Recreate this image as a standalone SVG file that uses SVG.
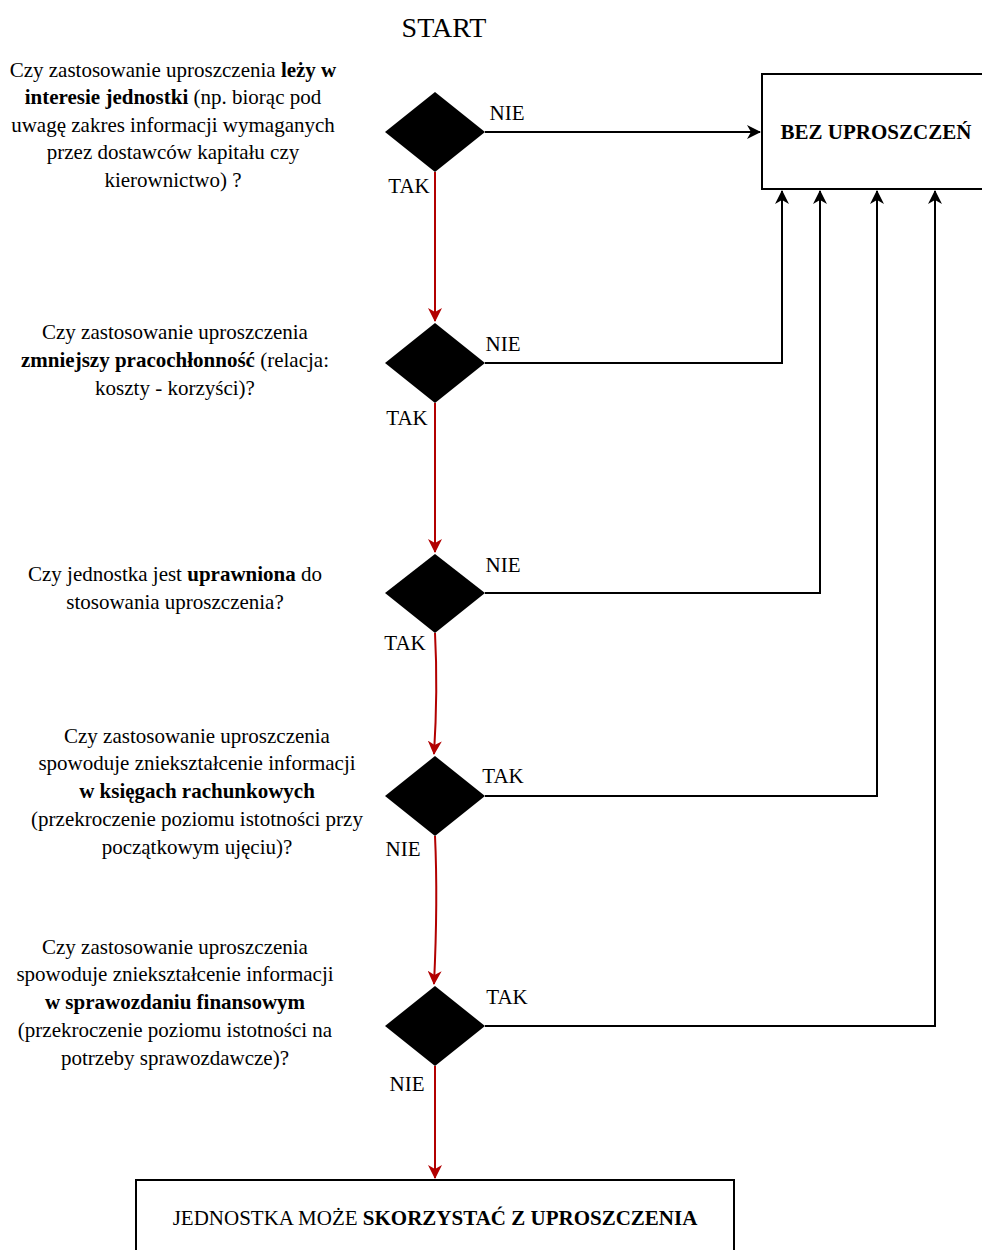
<svg xmlns="http://www.w3.org/2000/svg" width="982" height="1250" viewBox="0 0 982 1250">
<defs>
<marker id="ab" viewBox="0 0 14 14" refX="13" refY="7" markerWidth="14" markerHeight="14" markerUnits="userSpaceOnUse" orient="auto"><path d="M0,0 L14,7 L0,14 L4,7 Z" fill="#000"/></marker>
<marker id="ar" viewBox="0 0 14 14" refX="13" refY="7" markerWidth="14" markerHeight="14" markerUnits="userSpaceOnUse" orient="auto"><path d="M0,0 L14,7 L0,14 L4,7 Z" fill="#B20000"/></marker>
</defs>
<style>
text{font-family:"Liberation Serif","Times New Roman",serif;font-size:21px;fill:#000}
.c{text-anchor:middle}
.b{font-weight:bold}
.d{fill:#000;stroke:none}
.box{fill:#fff;stroke:#000;stroke-width:2}
.k{fill:none;stroke:#000;stroke-width:2}
.r{fill:none;stroke:#B20000;stroke-width:2}
</style>
<text id="start" class="c" x="444" y="37" style="font-size:28px">START</text>
<g id="connectors">
<path class="k" d="M485,132 L760,132" marker-end="url(#ab)"/>
<path class="k" d="M485,363 L782,363 L782,191" marker-end="url(#ab)"/>
<path class="k" d="M485,593 L820,593 L820,191" marker-end="url(#ab)"/>
<path class="k" d="M485,796 L877,796 L877,191" marker-end="url(#ab)"/>
<path class="k" d="M485,1026 L935,1026 L935,191" marker-end="url(#ab)"/>
<path class="r" d="M435,172 L435,321" marker-end="url(#ar)"/>
<path class="r" d="M435,403 L435,552" marker-end="url(#ar)"/>
<path class="r" d="M435,633 Q438,690 434,754" marker-end="url(#ar)"/>
<path class="r" d="M435,836 Q438,900 434,984" marker-end="url(#ar)"/>
<path class="r" d="M435,1066 L435,1178" marker-end="url(#ar)"/>
</g>
<g id="bez">
<rect class="box" x="762" y="74" width="224" height="115"/>
<text class="c b" x="876" y="139">BEZ UPROSZCZEŃ</text>
</g>
<g id="final">
<rect class="box" x="136" y="1180" width="598" height="80"/>
<text class="c" x="435" y="1225">JEDNOSTKA MOŻE <tspan class="b">SKORZYSTAĆ Z UPROSZCZENIA</tspan></text>
</g>
<g id="q1">
<path class="d" d="M435,92 L485,132 L435,172 L385,132 Z"/>
<text x="507" y="120" class="c">NIE</text>
<text x="409" y="193" class="c">TAK</text>
<text class="c" x="173" y="77">Czy zastosowanie uproszczenia <tspan class="b">leży w</tspan></text>
<text class="c" x="173" y="104"><tspan class="b">interesie jednostki</tspan> (np. biorąc pod</text>
<text class="c" x="173" y="132">uwagę zakres informacji wymaganych</text>
<text class="c" x="173" y="159">przez dostawców kapitału czy</text>
<text class="c" x="173" y="187">kierownictwo) ?</text>
</g>
<g id="q2">
<path class="d" d="M435,323 L485,363 L435,403 L385,363 Z"/>
<text x="503" y="351" class="c">NIE</text>
<text x="407" y="425" class="c">TAK</text>
<text class="c" x="175" y="339">Czy zastosowanie uproszczenia</text>
<text class="c" x="175" y="367"><tspan class="b">zmniejszy pracochłonność</tspan> (relacja:</text>
<text class="c" x="175" y="395">koszty - korzyści)?</text>
</g>
<g id="q3">
<path class="d" d="M435,554 L485,593 L435,633 L385,593 Z"/>
<text x="503" y="572" class="c">NIE</text>
<text x="405" y="650" class="c">TAK</text>
<text class="c" x="175" y="581">Czy jednostka jest <tspan class="b">uprawniona</tspan> do</text>
<text class="c" x="175" y="609">stosowania uproszczenia?</text>
</g>
<g id="q4">
<path class="d" d="M435,756 L485,796 L435,836 L385,796 Z"/>
<text x="503" y="783" class="c">TAK</text>
<text x="403" y="856" class="c">NIE</text>
<text class="c" x="197" y="743">Czy zastosowanie uproszczenia</text>
<text class="c" x="197" y="770">spowoduje zniekształcenie informacji</text>
<text class="c" x="197" y="798"><tspan class="b">w księgach rachunkowych</tspan></text>
<text class="c" x="197" y="826">(przekroczenie poziomu istotności przy</text>
<text class="c" x="197" y="854">początkowym ujęciu)?</text>
</g>
<g id="q5">
<path class="d" d="M435,986 L485,1026 L435,1066 L385,1026 Z"/>
<text x="507" y="1004" class="c">TAK</text>
<text x="407" y="1091" class="c">NIE</text>
<text class="c" x="175" y="954">Czy zastosowanie uproszczenia</text>
<text class="c" x="175" y="981">spowoduje zniekształcenie informacji</text>
<text class="c" x="175" y="1009"><tspan class="b">w sprawozdaniu finansowym</tspan></text>
<text class="c" x="175" y="1037">(przekroczenie poziomu istotności na</text>
<text class="c" x="175" y="1065">potrzeby sprawozdawcze)?</text>
</g>
</svg>
